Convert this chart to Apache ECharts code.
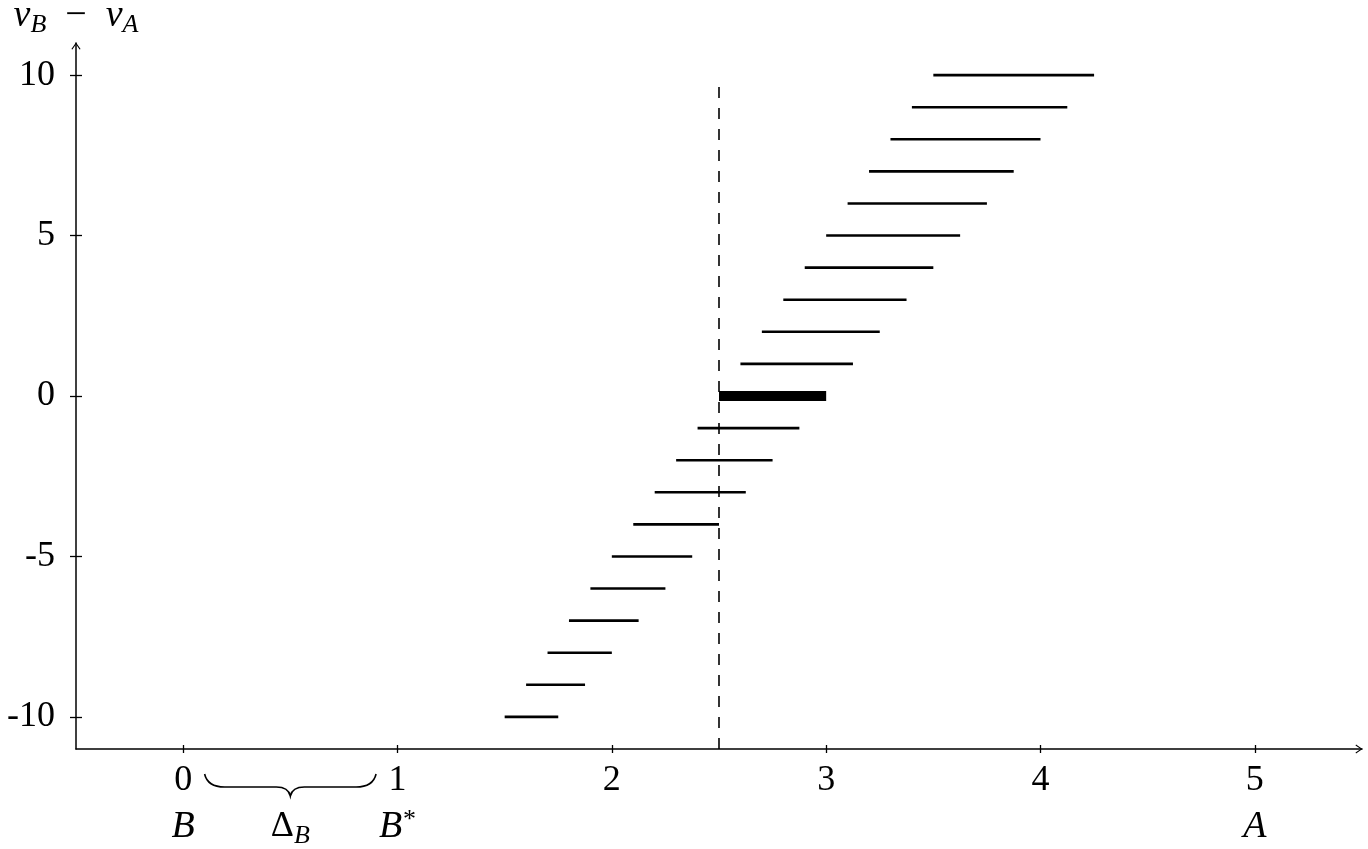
<!DOCTYPE html>
<html><head><meta charset="utf-8">
<script src="https://cdn.jsdelivr.net/npm/echarts@6/dist/echarts.min.js"></script>
<style>html,body{margin:0;padding:0;background:#fff}#c{width:1368px;height:849px}</style>
</head><body><div id="c"></div>
<script>
// ---- data ----
const levels   = [-10, -9, -8, -7, -6, -5, -4, -3, -2, -1, 0, 1, 2, 3, 4, 5, 6, 7, 8, 9, 10];
const segStart = [1.5, 1.6, 1.7, 1.8, 1.9, 2.0, 2.1, 2.2, 2.3, 2.4, 2.5, 2.6, 2.7, 2.8, 2.9, 3.0, 3.1, 3.2, 3.3, 3.4, 3.5];
const segEnd   = [1.75, 1.875, 2.0, 2.125, 2.25, 2.375, 2.5, 2.625, 2.75, 2.875, 3.0, 3.125, 3.25, 3.375, 3.5, 3.625, 3.75, 3.875, 4.0, 4.125, 4.25];
const highlightLevel = 0;
const xRange = [-0.5, 5.5];
const yRange = [-11, 11];
const xTicks = [0, 1, 2, 3, 4, 5];
const yTicks = [-10, -5, 0, 5, 10];
const yTickLabels = ['-10', '-5', '0', '5', '10'];
const dashedX = 2.5;
const dashedTop = 9.75;
const braceFrom = 0.1;
const braceTo = 0.9;
const lowerLabelX    = [0, 0.5, 1, 5];
const lowerLabelMain = ['B', 'Δ', 'B', 'A'];
const lowerLabelSub  = ['', 'B', '', ''];
const lowerLabelSup  = ['', '', '*', ''];

// ---- chart ----
const FONT = 'Liberation Serif';
const FS = 36;
const arrow = 'path://M0,7 L5,0 L10,7 L8.9,7.6 L5,1.9 L1.1,7.6 Z';

const normalData = [], hiData = [];
levels.forEach((y, i) => {
  (y === highlightLevel ? hiData : normalData).push([segStart[i], segEnd[i], y]);
});

function segRender(width) {
  return function (params, api) {
    const p1 = api.coord([api.value(0), api.value(2)]);
    const p2 = api.coord([api.value(1), api.value(2)]);
    return { type: 'line', shape: { x1: p1[0], y1: p1[1], x2: p2[0], y2: p2[1] },
      style: { stroke: '#000', lineWidth: width, lineCap: 'butt' } };
  };
}

const richStyles = {
  i: { fontFamily: FONT, fontStyle: 'italic', fontSize: 38, lineHeight: 40, color: '#000' },
  n: { fontFamily: FONT, fontSize: FS, lineHeight: 40, color: '#000' },
  m: { fontFamily: FONT, fontSize: 38, lineHeight: 40, color: '#000' },
  s: { fontFamily: FONT, fontStyle: 'italic', fontSize: 26, lineHeight: 26, verticalAlign: 'bottom', padding: [0, 0, -2, 0], color: '#000' },
  p: { fontFamily: FONT, fontSize: 26, lineHeight: 26, verticalAlign: 'top', padding: [0, 0, 0, 1], color: '#000' }
};

const labelData = lowerLabelX.map((x, i) => [x, i]);

const baseX = {
  type: 'value', min: xRange[0], max: xRange[1], position: 'bottom',
  splitLine: { show: false }
};
const baseY = {
  type: 'value', min: yRange[0], max: yRange[1], position: 'left',
  splitLine: { show: false }
};

const option = {
  animation: false,
  backgroundColor: '#fff',
  grid: { left: 76, right: 6, top: 43, bottom: 100, containLabel: false, outerBoundsMode: 'none' },
  xAxis: [
    Object.assign({}, baseX, {
      axisLine: { show: true, onZero: false, lineStyle: { color: '#000', width: 1.5 },
        symbol: ['none', arrow], symbolSize: [10, 7], symbolOffset: [0, -3] },
      axisTick: { show: true, customValues: xTicks, length: 4, lineStyle: { color: '#000', width: 1.3 } },
      axisLabel: { show: true, customValues: xTicks, fontFamily: FONT, fontSize: FS, color: '#000', margin: 14 }
    }),
    Object.assign({}, baseX, {
      axisLine: { show: false, onZero: false },
      axisTick: { show: true, inside: true, customValues: xTicks, length: 4, lineStyle: { color: '#000', width: 1.3 } },
      axisLabel: { show: false }
    })
  ],
  yAxis: [
    Object.assign({}, baseY, {
      name: '{i|v}{s|B}{m|\u2002−\u2002}{i|v}{s|A}',
      nameLocation: 'end', nameGap: 7,
      nameTextStyle: { rich: richStyles, align: 'center' },
      axisLine: { show: true, onZero: false, lineStyle: { color: '#000', width: 1.5 },
        symbol: ['none', arrow], symbolSize: [10, 7], symbolOffset: [0, -3] },
      axisTick: { show: true, customValues: yTicks, length: 6, lineStyle: { color: '#000', width: 1.3 } },
      axisLabel: { show: true, customValues: yTicks, fontFamily: FONT, fontSize: FS, color: '#000', margin: 21,
        formatter: v => yTickLabels[yTicks.indexOf(v)] }
    }),
    Object.assign({}, baseY, {
      axisLine: { show: false, onZero: false },
      axisTick: { show: true, inside: true, customValues: yTicks, length: 6, lineStyle: { color: '#000', width: 1.3 } },
      axisLabel: { show: false }
    })
  ],
  series: [
    {
      type: 'line', xAxisIndex: 0, yAxisIndex: 0, symbol: 'none',
      data: [[dashedX, yRange[0]], [dashedX, dashedTop]],
      lineStyle: { color: '#000', width: 1.6, type: [11, 10] }, z: 1
    },
    {
      type: 'custom', xAxisIndex: 0, yAxisIndex: 0, renderItem: segRender(2.6),
      encode: { x: [0, 1], y: 2 }, data: normalData, z: 2
    },
    {
      type: 'custom', xAxisIndex: 0, yAxisIndex: 0, renderItem: segRender(10),
      encode: { x: [0, 1], y: 2 }, data: hiData, z: 3
    },
    {
      type: 'custom', xAxisIndex: 0, yAxisIndex: 0, clip: false, silent: true,
      data: [[braceFrom, braceTo]],
      encode: { x: [0, 1] },
      renderItem: function (params, api) {
        const L = api.coord([api.value(0), yRange[0]]);
        const R = api.coord([api.value(1), yRange[0]]);
        const ax = L[1];
        const l = L[0], r = R[0], m = (l + r) / 2;
        const top = ax + 25, mid = ax + 38, tip = ax + 47;
        const d = 'M' + l + ',' + top +
          ' Q' + (l + 3) + ',' + mid + ' ' + (l + 20) + ',' + mid +
          ' L' + (m - 14) + ',' + mid +
          ' Q' + (m - 2) + ',' + mid + ' ' + m + ',' + tip +
          ' Q' + (m + 2) + ',' + mid + ' ' + (m + 14) + ',' + mid +
          ' L' + (r - 20) + ',' + mid +
          ' Q' + (r - 3) + ',' + mid + ' ' + r + ',' + top;
        return { type: 'path', shape: { pathData: d },
          style: { fill: null, stroke: '#000', lineWidth: 1.6 } };
      }
    },
    {
      type: 'custom', xAxisIndex: 0, yAxisIndex: 0, clip: false, silent: true,
      data: labelData,
      encode: { x: 0 },
      renderItem: function (params, api) {
        const i = api.value(1);
        const p = api.coord([api.value(0), yRange[0]]);
        let t = '{i|' + lowerLabelMain[i] + '}';
        if (lowerLabelMain[i] === 'Δ') t = '{n|Δ}';
        if (lowerLabelSub[i]) t += '{s|' + lowerLabelSub[i] + '}';
        if (lowerLabelSup[i]) t += '{p|' + lowerLabelSup[i] + '}';
        return { type: 'text', x: p[0], y: p[1] + 78,
          style: { text: t, rich: richStyles, align: 'center', verticalAlign: 'middle' } };
      }
    }
  ]
};
const chart = echarts.init(document.getElementById('c'), null, { renderer: 'canvas' });
chart.setOption(option);
</script></body></html>
